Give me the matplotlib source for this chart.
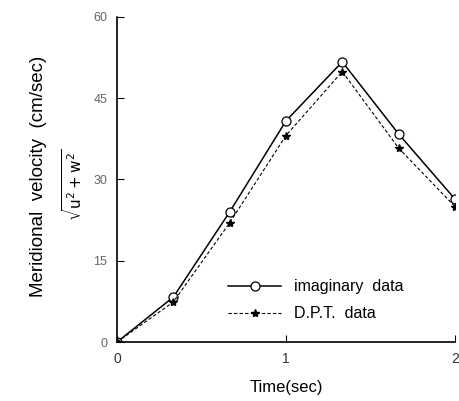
import matplotlib
matplotlib.use("Agg")
import matplotlib.pyplot as plt

# Data
time = [0, 1 / 3, 2 / 3, 1, 4 / 3, 5 / 3, 2]
imaginary = [0, 8.3, 24.0, 40.8, 51.7, 38.4, 26.4]
dpt = [0, 7.4, 22.0, 38.1, 49.9, 35.8, 25.0]
yticks = [0, 15, 30, 45, 60]
xticks = [0, 1, 2]

plt.rcParams["font.family"] = ["Liberation Sans", "DejaVu Sans"]
plt.rcParams["mathtext.fontset"] = "dejavusans"

fig = plt.figure(figsize=(4.59, 4.01), dpi=100)
ax = fig.add_axes([0.255, 0.147, 0.736, 0.811])

ax.plot(time, imaginary, "-", color="black", lw=1.1, marker="o", ms=6.5,
        mfc="white", mec="black", mew=0.9, label="imaginary  data")
ax.plot(time, dpt, "--", color="black", lw=0.8, marker="*", ms=6,
        mfc="black", mec="black", label="D.P.T.  data", dashes=(3, 2))

ax.set_xlim(0, 2)
ax.set_ylim(0, 60)
ax.set_xticks(xticks)
ax.set_yticks(yticks)
ax.set_xticklabels([str(t) for t in xticks], fontsize=10, color="#333333")
ax.set_yticklabels([str(t) for t in yticks], fontsize=9, color="#666666")
ax.tick_params(direction="in", length=5, width=0.8, pad=7)
for side in ["top", "right"]:
    ax.spines[side].set_visible(False)
for side in ["left", "bottom"]:
    ax.spines[side].set_linewidth(1.2)

ax.set_xlabel("Time(sec)", fontsize=12, labelpad=10)
fig.text(0.083, 0.56, "Meridional  velocity  (cm/sec)", rotation=90,
         ha="center", va="center", fontsize=13.5)
fig.text(0.16, 0.54, r"$\sqrt{\mathrm{u}^2 + \mathrm{w}^2}$", rotation=90,
         ha="center", va="center", fontsize=11)

ax.legend(loc="lower right", bbox_to_anchor=(0.89, 0.02), frameon=False,
          fontsize=11.5, handlelength=3.3, labelspacing=0.75, handletextpad=0.8)

fig.savefig("out.png", dpi=100)
